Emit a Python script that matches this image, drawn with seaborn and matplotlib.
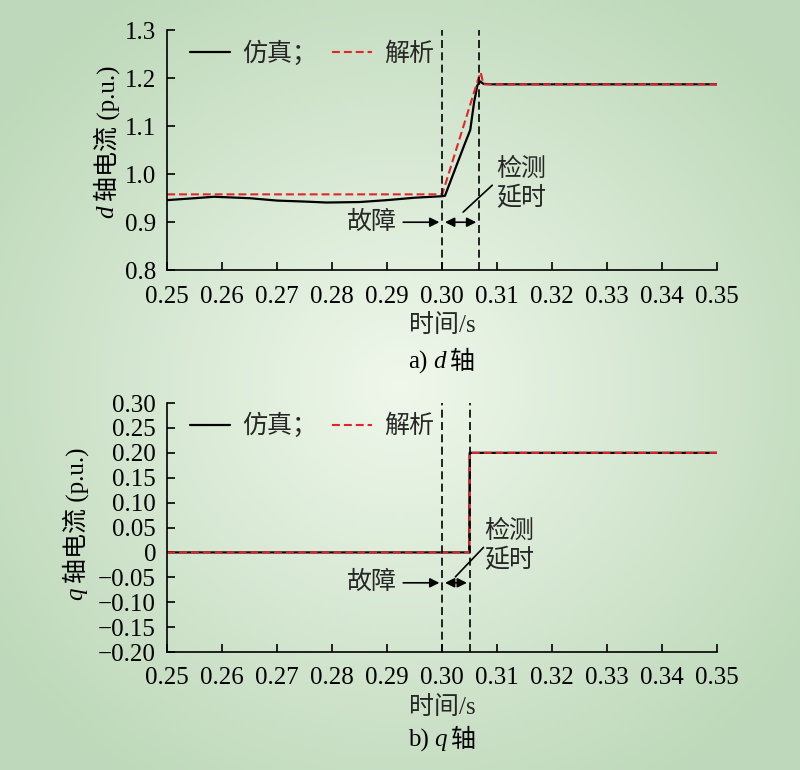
# d/q axis current plots: simulation vs analytical
import numpy as np
import seaborn as sns
import matplotlib.pyplot as plt
from matplotlib.ticker import FuncFormatter

# ---- data ----
sim_d_t = [0.25, 0.255, 0.2585, 0.265, 0.27, 0.275, 0.279, 0.285, 0.29, 0.295, 0.2998,
           0.3005, 0.302, 0.304, 0.3051, 0.3058, 0.3064, 0.3069, 0.3075, 0.309, 0.35]
sim_d_v = [0.946, 0.950, 0.953, 0.950, 0.945, 0.943, 0.941, 0.942, 0.946, 0.951, 0.954,
           0.955, 1.000, 1.060, 1.092, 1.150, 1.185, 1.193, 1.188, 1.187, 1.187]
ana_d_t = [0.25, 0.3000, 0.3066, 0.3070, 0.3075, 0.35]
ana_d_v = [0.958, 0.958, 1.200, 1.212, 1.187, 1.187]

sim_q_t = [0.25, 0.3049, 0.3050, 0.35]
sim_q_v = [0.0, 0.0, 0.20, 0.20]
ana_q_t = [0.25, 0.3049, 0.3050, 0.35]
ana_q_v = [0.0, 0.0, 0.20, 0.20]

fault_t = 0.300
detect_d_t = 0.3067
detect_q_t = 0.3050

sns.set_theme(style="ticks")
plt.rcParams['font.family'] = ['Liberation Serif', 'Noto Sans CJK SC']
plt.rcParams['axes.unicode_minus'] = True
FS = 18
ITAL = dict(family='Liberation Serif', fontstyle='italic')

fig = plt.figure(figsize=(8, 7.7), dpi=100)

# light green radial background
bg = fig.add_axes([0, 0, 1, 1], zorder=-10)
yy, xx = np.mgrid[-1:1:200j, -1:1:200j]
rr = np.clip(np.sqrt((xx * 0.9) ** 2 + (yy * 0.9) ** 2) / 1.1, 0, 1)
c_in = np.array([0.94, 0.97, 0.925])
c_out = np.array([0.745, 0.85, 0.73])
img = c_in[None, None, :] * (1 - rr[..., None]) + c_out[None, None, :] * rr[..., None]
bg.imshow(img, aspect='auto', extent=[0, 1, 0, 1])
bg.axis('off')

ax1 = fig.add_axes([0.209, 0.649, 0.6875, 0.312])
ax2 = fig.add_axes([0.209, 0.1532, 0.6875, 0.3234])

dash_red = (0, (3.8, 1.9))
dash_blk = (0, (4.8, 2.6))


def style(ax):
    ax.set_facecolor('none')
    sns.despine(ax=ax)
    for s in ['left', 'bottom']:
        ax.spines[s].set_color('black')
        ax.spines[s].set_linewidth(1.2)
    ax.tick_params(direction='in', length=6, width=1.2, labelsize=FS, colors='black', pad=8)
    ax.tick_params(axis='x', pad=11)
    ax.set_xlim(0.25, 0.35)
    ax.set_xticks(np.arange(0.25, 0.351, 0.01))
    ax.xaxis.set_major_formatter(FuncFormatter(lambda v, p: f"{v:.2f}"))


def run(pieces, cx, cy, vertical=False, gap=5):
    # lay out text pieces (with different fonts) next to each other, centred at cx, cy
    r = fig.canvas.get_renderer()
    objs = [fig.text(0, 0, s, rotation=90 if vertical else 0, ha='center', va='center',
                     fontsize=FS, color='black', **kw) for s, kw in pieces]
    sizes = []
    for t in objs:
        bb = t.get_window_extent(r)
        sizes.append(bb.height if vertical else bb.width)
    W, H = fig.bbox.width, fig.bbox.height
    total = sum(sizes) + gap * (len(objs) - 1)
    pos = (cy * H if vertical else cx * W) - total / 2
    for t, sz in zip(objs, sizes):
        c = pos + sz / 2
        t.set_position((cx, c / H) if vertical else (c / W, cy))
        pos += sz + gap


# ---- top: d axis ----
sns.lineplot(x=sim_d_t, y=sim_d_v, ax=ax1, color='black', lw=1.6, label='仿真；', sort=False)
sns.lineplot(x=ana_d_t, y=ana_d_v, ax=ax1, color='#e0262b', lw=1.5, label='解析', sort=False)
ax1.lines[1].set_linestyle(dash_red)
ax1.axvline(fault_t, color='black', lw=1.2, ls=dash_blk)
ax1.axvline(detect_d_t, color='black', lw=1.2, ls=dash_blk)
style(ax1)
ax1.set_ylim(0.8, 1.3)
ax1.set_yticks(np.arange(0.8, 1.31, 0.1))
ax1.yaxis.set_major_formatter(FuncFormatter(lambda v, p: f"{v:.1f}"))
ax1.set_xlabel("时间/s", fontsize=FS, labelpad=5)

ax1.annotate("", xy=(fault_t, 0.90), xytext=(0.2924, 0.90),
             arrowprops=dict(arrowstyle='-|>', color='black', lw=1.2, mutation_scale=14))
ax1.text(0.2917, 0.90, "故障", fontsize=FS, ha='right', va='center')
ax1.annotate("", xy=(fault_t, 0.90), xytext=(detect_d_t, 0.90),
             arrowprops=dict(arrowstyle='<|-|>', color='black', lw=1.2, mutation_scale=14))
ax1.plot([0.3038, 0.3091], [0.921, 0.977], color='black', lw=1.2)
ax1.text(0.3099, 0.979, "检测\n延时", fontsize=FS, ha='left', va='center', linespacing=1.25)

ax1.legend(loc='upper left', ncol=2, frameon=False, fontsize=FS, handlelength=1.6,
           columnspacing=0.6, handletextpad=0.5, bbox_to_anchor=(0.0, 1.05))

# ---- bottom: q axis ----
sns.lineplot(x=sim_q_t, y=sim_q_v, ax=ax2, color='black', lw=1.6, label='仿真；', sort=False)
sns.lineplot(x=ana_q_t, y=ana_q_v, ax=ax2, color='#e0262b', lw=1.5, label='解析', sort=False)
ax2.lines[1].set_linestyle(dash_red)
ax2.axvline(fault_t, color='black', lw=1.2, ls=dash_blk)
ax2.axvline(detect_q_t, color='black', lw=1.2, ls=dash_blk)
style(ax2)
ax2.set_ylim(-0.20, 0.30)
ax2.set_yticks(np.arange(-0.20, 0.301, 0.05))
ax2.yaxis.set_major_formatter(FuncFormatter(
    lambda v, p: "0" if abs(v) < 1e-9 else f"{v:.2f}".replace('-', '\u2212')))
ax2.set_xlabel("时间/s", fontsize=FS, labelpad=5)

ax2.annotate("", xy=(fault_t, -0.061), xytext=(0.2924, -0.061),
             arrowprops=dict(arrowstyle='-|>', color='black', lw=1.2, mutation_scale=14))
ax2.text(0.2917, -0.061, "故障", fontsize=FS, ha='right', va='center')
ax2.annotate("", xy=(fault_t, -0.061), xytext=(detect_q_t, -0.061),
             arrowprops=dict(arrowstyle='<|-|>', color='black', lw=1.2, mutation_scale=14))
ax2.plot([0.3024, 0.3075], [-0.049, 0.010], color='black', lw=1.2)
ax2.text(0.3076, 0.013, "检测\n延时", fontsize=FS, ha='left', va='center', linespacing=1.25)

ax2.legend(loc='upper left', ncol=2, frameon=False, fontsize=FS, handlelength=1.6,
           columnspacing=0.6, handletextpad=0.5, bbox_to_anchor=(0.0, 1.05))

# y labels and captions with italic d / q
run([("d", ITAL), ("轴电流 (p.u.)", {})], 107 / 800, 1 - 142 / 770, vertical=True)
run([("q", ITAL), ("轴电流 (p.u.)", {})], 76 / 800, 1 - 524 / 770, vertical=True)
run([("a)", {}), ("d", ITAL), ("轴", {})], 442 / 800, 1 - 362 / 770)
run([("b)", {}), ("q", ITAL), ("轴", {})], 442 / 800, 1 - 740 / 770)

fig.savefig("out.png", dpi=100)
